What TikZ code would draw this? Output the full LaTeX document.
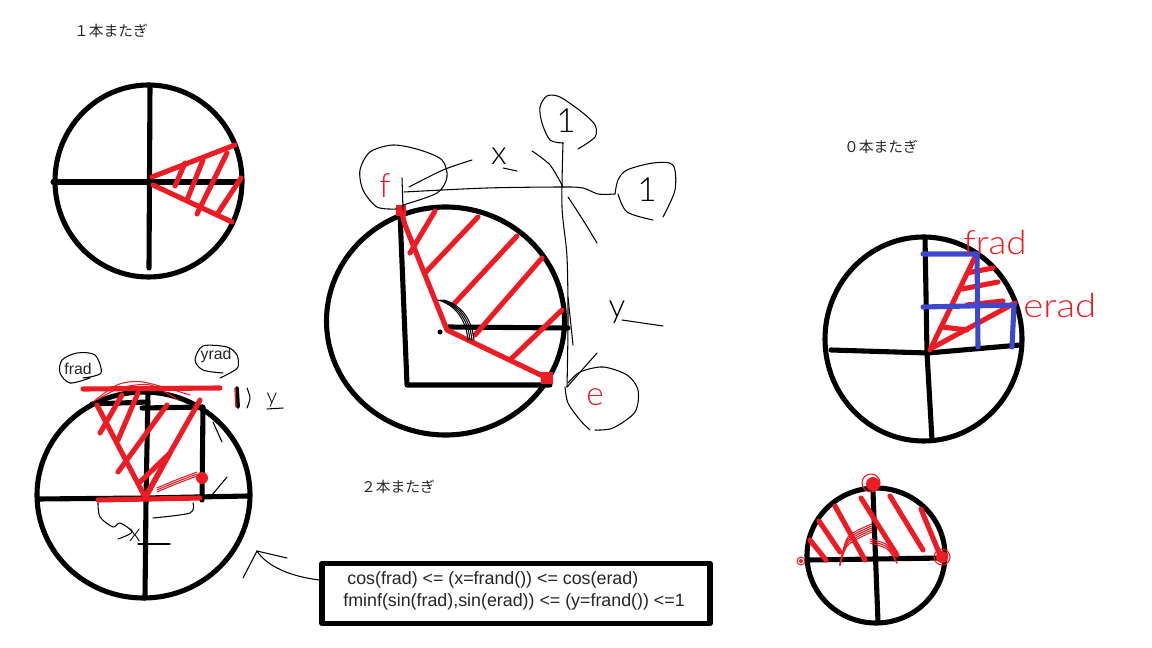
\documentclass[tikz,border=0pt]{standalone}
\usepackage{fontspec}
\setmainfont{Liberation Sans}
\newfontfamily\cjk{Noto Sans CJK JP}
\newfontfamily\handfont{Lato Light}
\usetikzlibrary{positioning}
\definecolor{inkred}{RGB}{237,28,36}
\definecolor{inkblue}{RGB}{63,72,204}

\begin{document}
\begin{tikzpicture}[x=0.02cm,y=-0.02cm,line cap=round,line join=round,
		rim/.style={line width=2.9pt,black},
		redstroke/.style={line width=2.9pt,inkred},
		bluestroke/.style={line width=2.9pt,inkblue},
		pen/.style={line width=0.6pt,black},
		redpen/.style={line width=0.6pt,inkred},
		title/.style={font=\cjk\fontsize{8.4pt}{10pt}\selectfont,inner sep=0pt,text=black!85},
		typed/.style={font=\fontsize{9pt}{11pt}\selectfont,inner sep=0pt,text=black!85},
		formulatext/.style={font=\fontsize{10.15pt}{12pt}\selectfont,inner sep=0pt,text=black!85},
		hand/.style={font=\handfont\fontsize{19pt}{22pt}\selectfont,inner sep=0pt},
		redhand/.style={hand,text=inkred}]
	\useasboundingbox (0,0) rectangle (1152,648);

	% titles
	\node[title] (title_one) at (111,31) {１本またぎ};
	\node[title] (title_zero) at (881,147) {０本またぎ};
	\node[title] (title_two) at (398,487) {２本またぎ};

	% one crossing
	\draw[rim] (148.5,181) circle [x radius=93.5,y radius=96];
	\draw[rim] (53,182) -- (240,182);
	\draw[rim] (150,85) -- (149,268);
	\draw[redstroke] (235,145) -- (152,177);
	\draw[redstroke] (153,185) -- (232,222);
	\draw[redstroke] (185,163) -- (175,186);
	\draw[redstroke] (203,160) -- (187,200);
	\draw[redstroke] (227,153) -- (197,214);
	\draw[redstroke] (241,178) -- (218,213);

	% big circle
	\draw[rim] (445.5,321) circle [x radius=119,y radius=114];
	\draw[rim] (400,213) -- (407,385) -- (550,385);
	\draw[rim] (448,327) -- (568,328);
	\draw[redstroke] (401,210) -- (405,225) -- (447,330) -- (547,378);
	\draw[redstroke] (435,211) -- (410,253);
	\draw[redstroke] (478,217) -- (425,273);
	\draw[redstroke] (517,236) -- (453,305);
	\draw[redstroke] (542,258) -- (475,335);
	\draw[redstroke] (562,310) -- (512,358);
	\fill[inkred] (396,205) rectangle (406,216);
	\fill[inkred] (541,372) rectangle (553,384);
	\foreach \dx in {0,2,4,6}
		\draw[pen] ({438+\dx},300) .. controls ({458+\dx},306) and ({466+\dx},322) .. ({468+\dx},340);
	\fill (440,332) circle [radius=2.5];

	% thin axes and bubbles
	\coordinate (f_end) at (403,210);
	\draw[pen] (402,178) -- (f_end);
	\draw[pen] plot[smooth] coordinates {(404,192) (487,188) (563,187) (583,188) (598,194) (615,194)};
	\draw[pen] plot[smooth] coordinates {(563,143) (562,207) (567,257) (568,323) (567,387)};
	\draw[pen] (568,297) -- (573,345);
	\draw[pen] plot[smooth] coordinates {(532,151) (550,165) (563,187)};
	\draw[pen] plot[smooth] coordinates {(568,197) (583,220) (597,243)};
	\draw[pen] plot[smooth] coordinates {(563,143) (550,140) (542,123) (540,107) (547,96) (560,97) (583,113) (595,125) (595,137) (578,149)};
	\node[hand] (up_one) at (566,121) {1};
	\draw[pen] plot[smooth] coordinates {(615,194) (618,180) (627,170) (653,163) (673,165) (675,190) (663,217)};
	\draw[pen] plot[smooth] coordinates {(618,194) (627,212) (653,220)};
	\node[hand] (right_one) at (647,190) {1};
	\draw[pen] plot[smooth] coordinates {(396,209) (377,207) (363,190) (360,170) (370,152) (393,145) (420,150) (442,160) (447,177) (437,193) (403,205)};
	\draw[pen] plot[smooth] coordinates {(409,187) (443,170) (472,160)};
	\node[redhand] (f_mark) at (385,186) {f};
	\node[hand] (x_mark) at (499,156) {x};
	\draw[pen] (503,168) -- (517,171);
	\node[hand] (y_mark) at (617,312) {y};
	\draw[pen] (622,320) -- (663,326);
	\draw[pen] plot[smooth] coordinates {(568,383) (580,372) (603,367) (627,375) (638,390) (635,412) (613,428) (595,430)};
	\draw[pen] plot[smooth] coordinates {(565,387) (568,403) (580,420) (590,430)};
	\draw[pen] (567,387) -- (597,353);
	\node[redhand] (e_mark) at (595,397) {e};

	% zero crossing
	\draw[rim] (923.5,339) circle [x radius=98.5,y radius=102];
	\draw[rim] (831,350) -- (928,353) -- (1020,345);
	\draw[rim] (925,237) -- (927,353) -- (932,440);
	\draw[redstroke] (930,350) -- (975,257);
	\draw[redstroke] (932,348) -- (1015,303);
	\draw[redstroke] (967,273) -- (993,268);
	\draw[redstroke] (962,289) -- (998,282);
	\draw[redstroke] (967,305) -- (1003,301);
	\draw[redstroke] (942,327) -- (967,330);
	\draw[bluestroke] (923,254) -- (977,254) -- (978,347);
	\draw[bluestroke] (923,307) -- (1014,305) -- (1012,347);
	\node[redhand,anchor=base west,xscale=1.1] (frad_mark) at (963,255) {frad};
	\node[redhand,anchor=base west,xscale=1.15] (erad_mark) at (1023,317) {erad};

	% two crossings, lower right
	\draw[rim] (876,555.5) circle [x radius=69,y radius=67.5];
	\draw[rim] (807,560) -- (943,558);
	\draw[rim] (873,492) -- (878,622);
	\draw[redstroke] (810,540) -- (826,560);
	\draw[redstroke] (819,521) -- (840,552);
	\draw[redstroke] (835,506) -- (865,560);
	\draw[redstroke] (861,498) -- (897,555);
	\draw[redstroke] (890,496) -- (923,550);
	\draw[redstroke] (921,509) -- (940,555);
	\fill[inkred] (873,484) circle [radius=7];
	\fill[inkred] (942,557) circle [radius=6];
	\draw[redpen] (871,483) circle [radius=9];
	\draw[redpen] (942,557) circle [radius=8];
	\draw[redpen] (801,561) circle [radius=4];
	\fill[inkred] (801,561) circle [radius=2];
	\foreach \dy in {0,2,4,6,8}
		\draw[redpen] plot[smooth] coordinates {(840,565) (848,{537+\dy}) (872,{524+\dy})};
	\foreach \dy in {0,2,4}
		\draw[redpen] plot[smooth] coordinates {(870,{539+\dy}) (887,{545+\dy}) (897,563)};

	% lower left
	\draw[rim] (143.5,495) circle [x radius=106.5,y radius=103];
	\draw[rim] (38,499) -- (145,498) -- (248,496);
	\draw[rim] (148,393) -- (146,500) -- (145,598);
	\draw[rim] (92,404) -- (148,402);
	\draw[rim] (142,408) -- (203,407) -- (202,500);
	\draw[redstroke] (83,389) -- (220,388);
	\draw[redstroke] (97,405) -- (145,497) -- (200,400);
	\draw[redstroke] (98,500) -- (200,498);
	\draw[redstroke] (122,395) -- (100,433);
	\draw[redstroke] (138,393) -- (118,440);
	\draw[redstroke] (167,405) -- (118,472);
	\draw[redstroke] (140,482) -- (170,453) -- (147,495);
	\fill[inkred] (202,478) circle [radius=6];
	\foreach \dy in {0,2,4}
		\draw[redpen] plot[smooth] coordinates {(157,{488+\dy}) (176,{480+\dy}) (197,{472+\dy})};
	\draw[redpen] plot[smooth] coordinates {(93,402) (117,385) (143,382) (190,395)};
	\draw[redpen] plot[smooth] coordinates {(97,400) (120,388) (150,385) (178,400)};
	\draw[pen] (213,422) -- (222,442);
	\draw[pen] (227,477) -- (212,495);

	\node[typed] (frad_label) at (78,369) {frad};
	\draw[pen] plot[smooth] coordinates {(90,378) (70,383) (60,373) (62,360) (77,353) (95,355) (101,373) (83,378)};
	\node[typed] (yrad_label) at (216,355) {yrad};
	\draw[pen] plot[smooth] coordinates {(220,378) (230,373) (238,367) (237,355) (227,347) (203,346) (195,360) (203,370) (223,373)};

	\draw[line width=2.2pt,black] (237,388) -- (238,407);
	\draw[line width=0.8pt,inkred] (235,388) -- (236,407);
	\draw[pen] plot[smooth] coordinates {(247,388) (250,398) (247,408)};
	\node[hand,font=\handfont\fontsize{12pt}{14pt}\selectfont] (y_small) at (272,400) {y};
	\draw[pen] (267,409) -- (283,408);

	\draw[pen] plot[smooth] coordinates {(98,503) (100,517) (113,527) (120,523) (132,532) (118,539)};
	\draw[pen] plot[smooth] coordinates {(193,503) (190,513) (153,518)};
	\node[hand,font=\handfont\fontsize{14pt}{16pt}\selectfont] (x_small) at (135,535) {x};
	\draw[pen] (138,544) -- (170,544);

	% formula box
	\node[draw,rim,fill=white,minimum width=7.76cm,minimum height=1.2cm,inner sep=0pt] (formula) at (516,593.5) {};
	\node[formulatext,anchor=west] (formula_top) at (347,580) {cos(frad) <= (x=frand()) <= cos(erad)};
	\node[formulatext,anchor=west] (formula_low) at (343,602) {fminf(sin(frad),sin(erad)) <= (y=frand()) <=1};
	\coordinate (arrow_tip) at (257,551);
	\coordinate (arrow_end) at (formula.west |- formula_top.west);
	\draw[pen] (arrow_end) .. controls (293,577) and (267,567) .. (arrow_tip);
	\draw[pen] (arrow_tip) -- (243,578);
	\draw[pen] (arrow_tip) -- (287,558);
\end{tikzpicture}
\end{document}
